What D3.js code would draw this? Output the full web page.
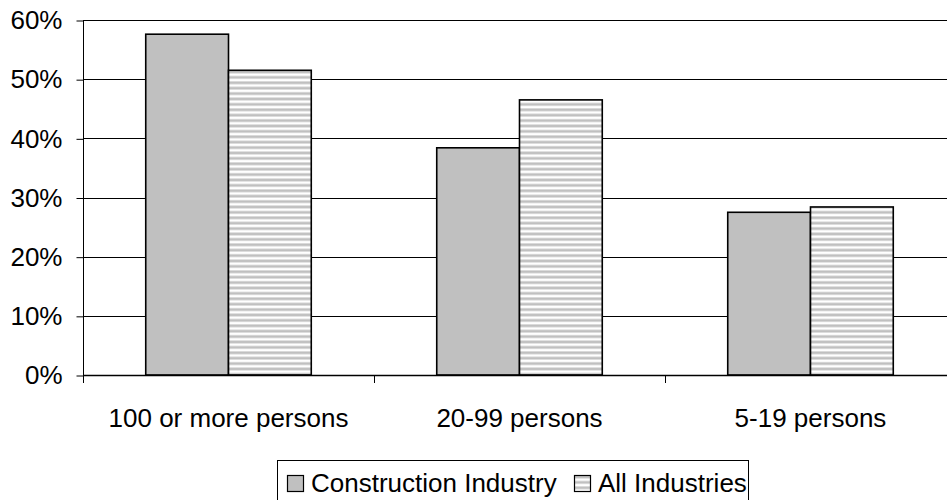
<!DOCTYPE html>
<html>
<head>
<meta charset="utf-8">
<script src="https://cdn.jsdelivr.net/npm/d3@7/dist/d3.min.js"></script>
<style>
  html, body { margin: 0; padding: 0; background: #fff; }
  svg { display: block; font-family: "Liberation Sans", Arial, sans-serif; }
</style>
</head>
<body>
<svg id="chart" width="947" height="500"></svg>
<script>
// Share of establishments by size class
const categories = ["100 or more persons", "20-99 persons", "5-19 persons"];
const seriesNames = ["Construction Industry", "All Industries"];
const construction = [57.6, 38.4, 27.5];
const allIndustries = [51.5, 46.5, 28.4];
const yTicks = [0, 10, 20, 30, 40, 50, 60];

const FONT = 26;
const svg = d3.select("#chart");
const plot = { left: 83, right: 956, top: 20, bottom: 375 };

const x = d3.scaleBand().domain(categories).range([plot.left, plot.right]).paddingInner(0).paddingOuter(0);
const inner = d3.scaleBand().domain(seriesNames).range([0, x.bandwidth()]).paddingInner(0).paddingOuter(0.758);
const y = d3.scaleLinear().domain([0, 60]).range([plot.bottom, plot.top]);

// Horizontal stripe fill for the all-industries bars
const defs = svg.append("defs");
const pat = defs.append("pattern").attr("id", "stripes")
  .attr("patternUnits", "userSpaceOnUse").attr("width", 8).attr("height", 5.4);
pat.append("rect").attr("width", 8).attr("height", 5.4).attr("fill", "#ffffff");
pat.append("rect").attr("y", 0).attr("width", 8).attr("height", 0.8).attr("fill", "#dcdcdc");
pat.append("rect").attr("y", 0.8).attr("width", 8).attr("height", 1.9).attr("fill", "#c0c0c0");
pat.append("rect").attr("y", 2.7).attr("width", 8).attr("height", 0.8).attr("fill", "#dcdcdc");

const fills = { "Construction Industry": "#c0c0c0", "All Industries": "url(#stripes)" };

// Gridlines
svg.append("g").selectAll("line").data(yTicks.filter(d => d > 0)).join("line")
  .attr("x1", plot.left).attr("x2", plot.right)
  .attr("y1", d => Math.round(y(d)) + 0.5).attr("y2", d => Math.round(y(d)) + 0.5)
  .attr("stroke", "#000").attr("stroke-width", 1);

// Bars
const rows = categories.map((c, i) => ({ cat: c, vals: [
  { s: seriesNames[0], v: construction[i] },
  { s: seriesNames[1], v: allIndustries[i] }
]}));
const groups = svg.append("g").selectAll("g").data(rows).join("g")
  .attr("transform", d => `translate(${x(d.cat)},0)`);
groups.selectAll("rect").data(d => d.vals).join("rect")
  .attr("x", d => inner(d.s))
  .attr("y", d => y(d.v))
  .attr("width", inner.bandwidth())
  .attr("height", d => plot.bottom - y(d.v))
  .attr("fill", d => fills[d.s])
  .attr("stroke", "#000").attr("stroke-width", 1.6);

// Y axis
const yAxis = d3.axisLeft(y).tickValues(yTicks).tickFormat(d => d + "%").tickSize(7).tickPadding(14);
const gy = svg.append("g").attr("transform", `translate(${plot.left + 0.5},0.5)`).call(yAxis);
gy.select(".domain").attr("d", `M0,${plot.top}V${plot.bottom}`).attr("stroke", "#000");
gy.selectAll(".tick line").attr("stroke", "#000");
gy.selectAll(".tick text").attr("font-size", FONT).attr("fill", "#000")
  .attr("font-family", "\"Liberation Sans\", Arial, sans-serif");

// X axis line, ticks at band boundaries, and category labels
const gx = svg.append("g");
gx.append("line").attr("x1", plot.left).attr("x2", plot.right)
  .attr("y1", plot.bottom + 0.5).attr("y2", plot.bottom + 0.5).attr("stroke", "#000").attr("stroke-width", 1.4);
const bounds = categories.map(c => x(c));
gx.selectAll("line.tk").data(bounds).join("line").attr("class", "tk")
  .attr("x1", d => Math.round(d) + 0.5).attr("x2", d => Math.round(d) + 0.5)
  .attr("y1", plot.bottom).attr("y2", plot.bottom + 8).attr("stroke", "#000");
gx.selectAll("text").data(categories).join("text")
  .attr("x", d => x(d) + x.bandwidth() / 2).attr("y", 427)
  .attr("text-anchor", "middle").attr("font-size", FONT).attr("fill", "#000")
  .text(d => d);

// Legend
const legend = svg.append("g");
legend.append("rect").attr("x", 277.5).attr("y", 460.5).attr("width", 471).attr("height", 45)
  .attr("fill", "#fff").attr("stroke", "#000").attr("stroke-width", 1);
const legendItems = [
  { s: seriesNames[0], sx: 287, tx: 311 },
  { s: seriesNames[1], sx: 574, tx: 598 }
];
legendItems.forEach(it => {
  legend.append("rect").attr("x", it.sx + 0.5).attr("y", 475.5).attr("width", 16).attr("height", 16)
    .attr("fill", fills[it.s]).attr("stroke", "#000").attr("stroke-width", 1.2);
  legend.append("text").attr("x", it.tx).attr("y", 492).attr("font-size", FONT).attr("fill", "#000").text(it.s);
});
</script>
</body>
</html>
